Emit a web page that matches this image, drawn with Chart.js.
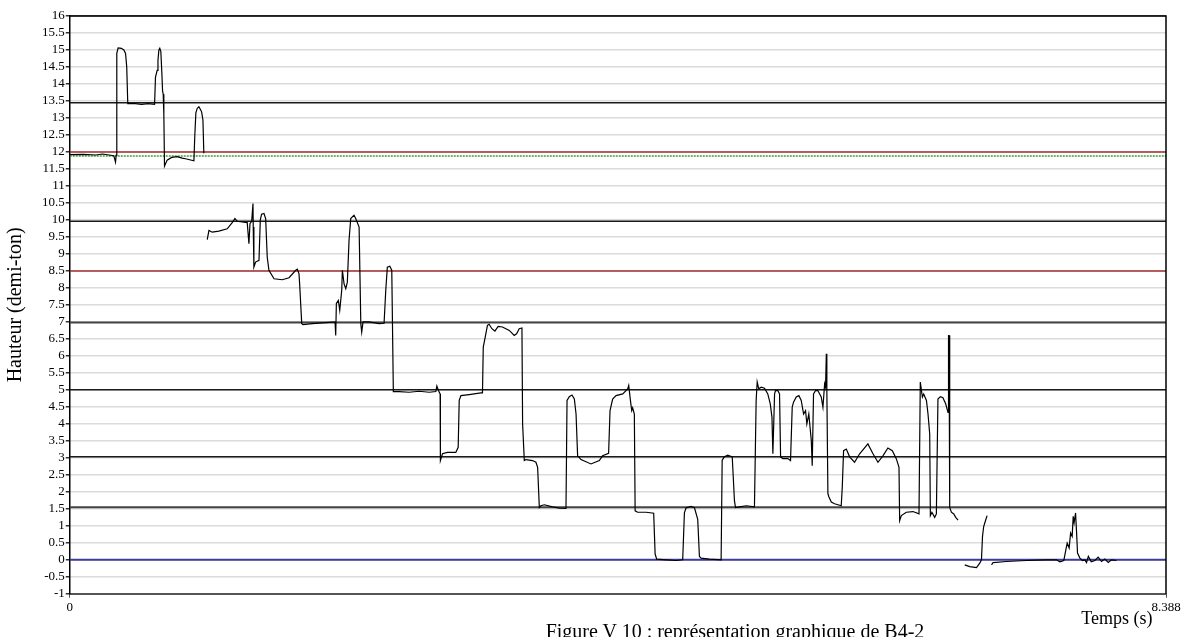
<!DOCTYPE html>
<html>
<head>
<meta charset="utf-8">
<script src="https://cdn.jsdelivr.net/npm/chart.js@4/dist/chart.umd.min.js"></script>
<style>
  html, body { margin: 0; padding: 0; background: #fff; overflow: hidden; }
  #wrap { position: relative; width: 1185px; height: 637px; }
  #caption {
    position: absolute; left: 0; width: 1470px; top: 621px; text-align: center;
    font: 20px "Liberation Serif", "Times New Roman", serif; color: #000; line-height: 20px;
  }
</style>
</head>
<body>
<div id="wrap">
  <canvas id="myChart" width="1185" height="637"></canvas>
  <div id="caption">Figure V 10 : représentation graphique de B4-2</div>
</div>
<script>
// pitch trace of B4-2 : time in seconds, height in semitones
var seg1Time = [0, 0.10, 0.20, 0.25, 0.30, 0.337, 0.350, 0.355, 0.360, 0.370, 0.395, 0.414, 0.427, 0.436, 0.444,
  0.50, 0.55, 0.60, 0.649, 0.656, 0.669, 0.675, 0.682, 0.689, 0.697, 0.705, 0.710, 0.715, 0.720, 0.725,
  0.745, 0.78, 0.822, 0.86, 0.886, 0.950, 0.957, 0.965, 0.975, 0.988, 1.000, 1.009, 1.019, 1.026];
var seg1Pitch = [11.92, 11.93, 11.91, 11.94, 11.91, 11.89, 11.70, 11.90, 14.90, 15.06, 15.05, 15.00, 14.90, 14.50, 13.42,
  13.42, 13.40, 13.42, 13.40, 14.20, 14.40, 14.70, 15.00, 15.05, 14.95, 14.30, 13.80, 13.70, 13.10, 11.58,
  11.76, 11.84, 11.86, 11.82, 11.80, 11.74, 12.50, 13.15, 13.28, 13.33, 13.25, 13.18, 12.94, 11.96];

var seg2Time = [1.052, 1.065, 1.090, 1.141, 1.205, 1.243, 1.264, 1.282, 1.320, 1.358, 1.371, 1.379, 1.392, 1.402, 1.404,
  1.409, 1.422, 1.448, 1.458, 1.468, 1.486, 1.499, 1.511, 1.524, 1.563, 1.626, 1.678, 1.729, 1.741, 1.754,
  1.759, 1.775, 1.785, 1.856, 1.959, 2.030, 2.035, 2.040, 2.055, 2.066, 2.081, 2.086, 2.099, 2.112, 2.124,
  2.137, 2.150, 2.175, 2.188, 2.214, 2.227, 2.234, 2.244, 2.290, 2.367, 2.405, 2.418, 2.430, 2.449, 2.464,
  2.476, 2.520, 2.597, 2.673, 2.750, 2.801, 2.809, 2.821, 2.834, 2.836, 2.852, 2.890, 2.954, 2.972, 2.980,
  2.993, 3.056, 3.146, 3.158, 3.164, 3.179, 3.196, 3.209, 3.230, 3.253, 3.278, 3.311, 3.363, 3.401, 3.419,
  3.439, 3.460, 3.465, 3.478, 3.491, 3.541, 3.567, 3.580, 3.593, 3.605, 3.631, 3.694, 3.746, 3.797, 3.805,
  3.822, 3.843, 3.861, 3.874, 3.886, 3.912, 3.988, 4.052, 4.077, 4.123, 4.134, 4.154, 4.180, 4.231, 4.269,
  4.277, 4.290, 4.300, 4.307, 4.320, 4.326, 4.345, 4.410, 4.468, 4.479, 4.491, 4.563, 4.640, 4.690, 4.703,
  4.716, 4.754, 4.780, 4.805, 4.818, 4.831, 4.895, 4.984, 4.992, 5.009, 5.035, 5.069, 5.086, 5.094, 5.124,
  5.176, 5.239, 5.252, 5.260, 5.272, 5.291, 5.316, 5.341, 5.360, 5.373, 5.380, 5.393, 5.400, 5.418, 5.431,
  5.439, 5.456, 5.494, 5.515, 5.528, 5.538, 5.559, 5.579, 5.597, 5.615, 5.630, 5.640, 5.655, 5.674, 5.681,
  5.691, 5.707, 5.724, 5.750, 5.763, 5.776, 5.783, 5.789, 5.793, 5.801, 5.809, 5.827, 5.852, 5.878, 5.903,
  5.911, 5.921, 5.942, 5.967, 6.005, 6.044, 6.107, 6.146, 6.184, 6.222, 6.260, 6.294, 6.325, 6.345, 6.350,
  6.363, 6.401, 6.452, 6.498, 6.508, 6.524, 6.534, 6.555, 6.567, 6.580, 6.585, 6.597, 6.618, 6.631, 6.643,
  6.662, 6.681, 6.702, 6.720, 6.724, 6.728, 6.733, 6.746, 6.764, 6.779, 6.797];
var seg2Pitch = [9.42, 9.69, 9.64, 9.67, 9.74, 9.92, 10.04, 9.96, 9.94, 9.92, 9.30, 9.89, 9.96, 10.48, 9.79,
  8.61, 8.76, 8.81, 10.00, 10.17, 10.19, 10.04, 8.91, 8.52, 8.27, 8.24, 8.30, 8.52, 8.55, 8.42,
  8.12, 6.95, 6.92, 6.95, 6.98, 7.00, 6.60, 7.54, 7.63, 7.34, 7.93, 8.52, 8.12, 7.98, 8.17,
  9.40, 10.04, 10.14, 10.04, 9.79, 6.95, 6.70, 7.00, 7.00, 6.95, 6.96, 7.93, 8.61, 8.64, 8.52,
  4.95, 4.95, 4.93, 4.96, 4.93, 4.95, 5.11, 4.98, 4.88, 2.92, 3.12, 3.16, 3.16, 3.31, 4.69,
  4.83, 4.86, 4.91, 4.91, 6.26, 6.55, 6.90, 6.93, 6.80, 6.73, 6.87, 6.85, 6.75, 6.60, 6.65,
  6.80, 6.82, 4.00, 2.92, 2.95, 2.92, 2.87, 2.72, 1.54, 1.59, 1.62, 1.56, 1.52, 1.51, 4.69,
  4.80, 4.85, 4.73, 4.29, 3.06, 2.95, 2.82, 2.92, 3.06, 3.13, 4.39, 4.73, 4.83, 4.88, 5.03,
  5.13, 4.69, 4.39, 4.47, 4.29, 1.44, 1.40, 1.40, 1.37, 0.17, 0.02, 0.00, -0.02, 0.00, 1.38,
  1.53, 1.57, 1.53, 1.19, 0.10, 0.05, 0.02, 0.00, 2.93, 3.03, 3.08, 3.03, 1.74, 1.54, 1.56,
  1.59, 1.56, 4.69, 5.23, 5.03, 5.08, 5.05, 4.88, 4.59, 4.20, 3.12, 4.88, 4.98, 4.98, 4.88,
  3.03, 2.98, 2.98, 2.92, 4.49, 4.64, 4.79, 4.83, 4.69, 4.29, 4.39, 4.00, 4.29, 3.51, 2.77,
  4.88, 4.98, 4.98, 4.79, 4.49, 5.18, 5.08, 6.06, 4.98, 1.95, 1.85, 1.70, 1.65, 1.62, 1.59,
  2.14, 3.21, 3.26, 3.03, 2.87, 3.12, 3.41, 3.12, 2.87, 3.06, 3.29, 3.21, 2.97, 2.72, 1.15,
  1.30, 1.40, 1.42, 1.35, 5.23, 4.79, 4.88, 4.69, 4.29, 3.70, 1.30, 1.40, 1.25, 1.35, 4.73,
  4.80, 4.77, 4.59, 4.34, 6.60, 6.60, 1.54, 1.40, 1.35, 1.25, 1.17];

var seg3Time = [6.848, 6.886, 6.938, 6.963, 6.976, 6.984, 6.993, 7.009, 7.019];
var seg3Pitch = [-0.15, -0.20, -0.23, -0.10, 0.00, 0.69, 0.98, 1.18, 1.30];

var seg4Time = [7.053, 7.065, 7.167, 7.321, 7.474, 7.550, 7.576, 7.606, 7.622, 7.632, 7.647, 7.658, 7.670, 7.678, 7.685,
  7.696, 7.704, 7.711, 7.729, 7.749, 7.767, 7.780, 7.794, 7.816, 7.844, 7.869, 7.895, 7.920, 7.946, 7.971, 8.009];
var seg4Pitch = [-0.15, -0.08, -0.05, -0.02, 0.00, 0.00, -0.06, -0.02, 0.30, 0.49, 0.35, 0.79, 0.69, 1.28, 1.09,
  1.38, 0.79, 0.20, 0.05, -0.02, 0.00, -0.08, 0.10, -0.06, -0.02, 0.08, -0.05, 0.02, -0.08, 0.00, -0.02];

// reference levels drawn across the whole graph
var blackLevels = [13.45, 9.96, 5.0, 3.03];
var greyLevels = [6.98, 1.55];
var redLevels = [12, 8.5];
var greenLevels = [11.88];
var blueLevels = [0];

var timeMin = 0;
var timeMax = 8.388;
var xTickValues = [0, 8.388];

// join the segments, with a gap between each
var segments = [[seg1Time, seg1Pitch], [seg2Time, seg2Pitch], [seg3Time, seg3Pitch], [seg4Time, seg4Pitch]];
var trace = [];
segments.forEach(function (s, k) {
  if (k > 0) trace.push({x: s[0][0], y: null});
  for (var i = 0; i < s[0].length; i++) trace.push({x: s[0][i], y: s[1][i]});
});

function levelSets(levels, color, width, dash) {
  return levels.map(function (v) {
    return {
      data: [{x: timeMin, y: v}, {x: timeMax, y: v}],
      borderColor: color, borderWidth: width, borderDash: dash,
      pointRadius: 0, order: 1
    };
  });
}

var datasets = [{
  label: 'B4-2',
  data: trace,
  borderColor: '#000',
  borderWidth: 1.2,
  pointRadius: 0,
  spanGaps: false,
  tension: 0,
  order: 0
}].concat(
  levelSets(blackLevels, '#1a1a1a', 1.5, []),
  levelSets(greyLevels, '#444', 2, []),
  levelSets(redLevels, '#a33030', 1.5, []),
  levelSets(greenLevels, '#3f9f3f', 1.5, [2, 1]),
  levelSets(blueLevels, '#3c3c9c', 2, [])
);

// top and right edges of the frame
var frame = {
  id: 'frame',
  afterDraw: function (chart) {
    var a = chart.chartArea, c = chart.ctx;
    c.save();
    c.strokeStyle = '#000';
    c.lineWidth = 1.5;
    c.beginPath();
    c.moveTo(a.left, a.top);
    c.lineTo(a.right, a.top);
    c.lineTo(a.right, a.bottom);
    c.stroke();
    c.restore();
  }
};

var serif = '"Liberation Serif", "Times New Roman", serif';
var ctx = document.getElementById('myChart').getContext('2d');

var myChart = new Chart(ctx, {
  type: 'line',
  data: { datasets: datasets },
  plugins: [frame],
  options: {
    responsive: false,
    animation: false,
    layout: { padding: { left: 0, right: 19, top: 16, bottom: 7 } },
    plugins: {
      legend: { display: false },
      tooltip: { enabled: false }
    },
    scales: {
      x: {
        type: 'linear',
        min: timeMin,
        max: timeMax,
        afterBuildTicks: function (axis) {
          axis.ticks = xTickValues.map(function (v) { return {value: v}; });
        },
        ticks: {
          autoSkip: false, maxRotation: 0, padding: 2,
          color: '#000', font: { family: serif, size: 13 },
          callback: function (v) { return String(v); }
        },
        grid: { drawOnChartArea: false, drawTicks: true, tickLength: 4, color: '#555' },
        border: { color: '#555', width: 2 },
        title: {
          // trailing spaces pull the right-aligned title a little to the left
          display: true, text: 'Temps (s)   ', align: 'end', color: '#000',
          font: { family: serif, size: 18 }, padding: { top: -9, bottom: 0 }
        }
      },
      y: {
        min: -1,
        max: 16,
        ticks: {
          stepSize: 0.5, autoSkip: false, padding: 1,
          color: '#000', font: { family: serif, size: 13 },
          callback: function (v) { return String(Math.round(v * 10) / 10); }
        },
        grid: {
          tickLength: 4,
          tickColor: '#333',
          lineWidth: 1.5,
          color: function (c) {
            if (c.tick && c.tick.value === 16) return '#000';
            if (c.tick && c.tick.value === -1) return '#555';
            return '#b8b8b8';
          }
        },
        border: { color: '#000', width: 1.5, dash: [1, 1] },
        title: {
          display: true, text: 'Hauteur (demi-ton)', color: '#000',
          font: { family: serif, size: 20 }, padding: { top: 4, bottom: 13 }
        }
      }
    }
  }
});
</script>
</body>
</html>
